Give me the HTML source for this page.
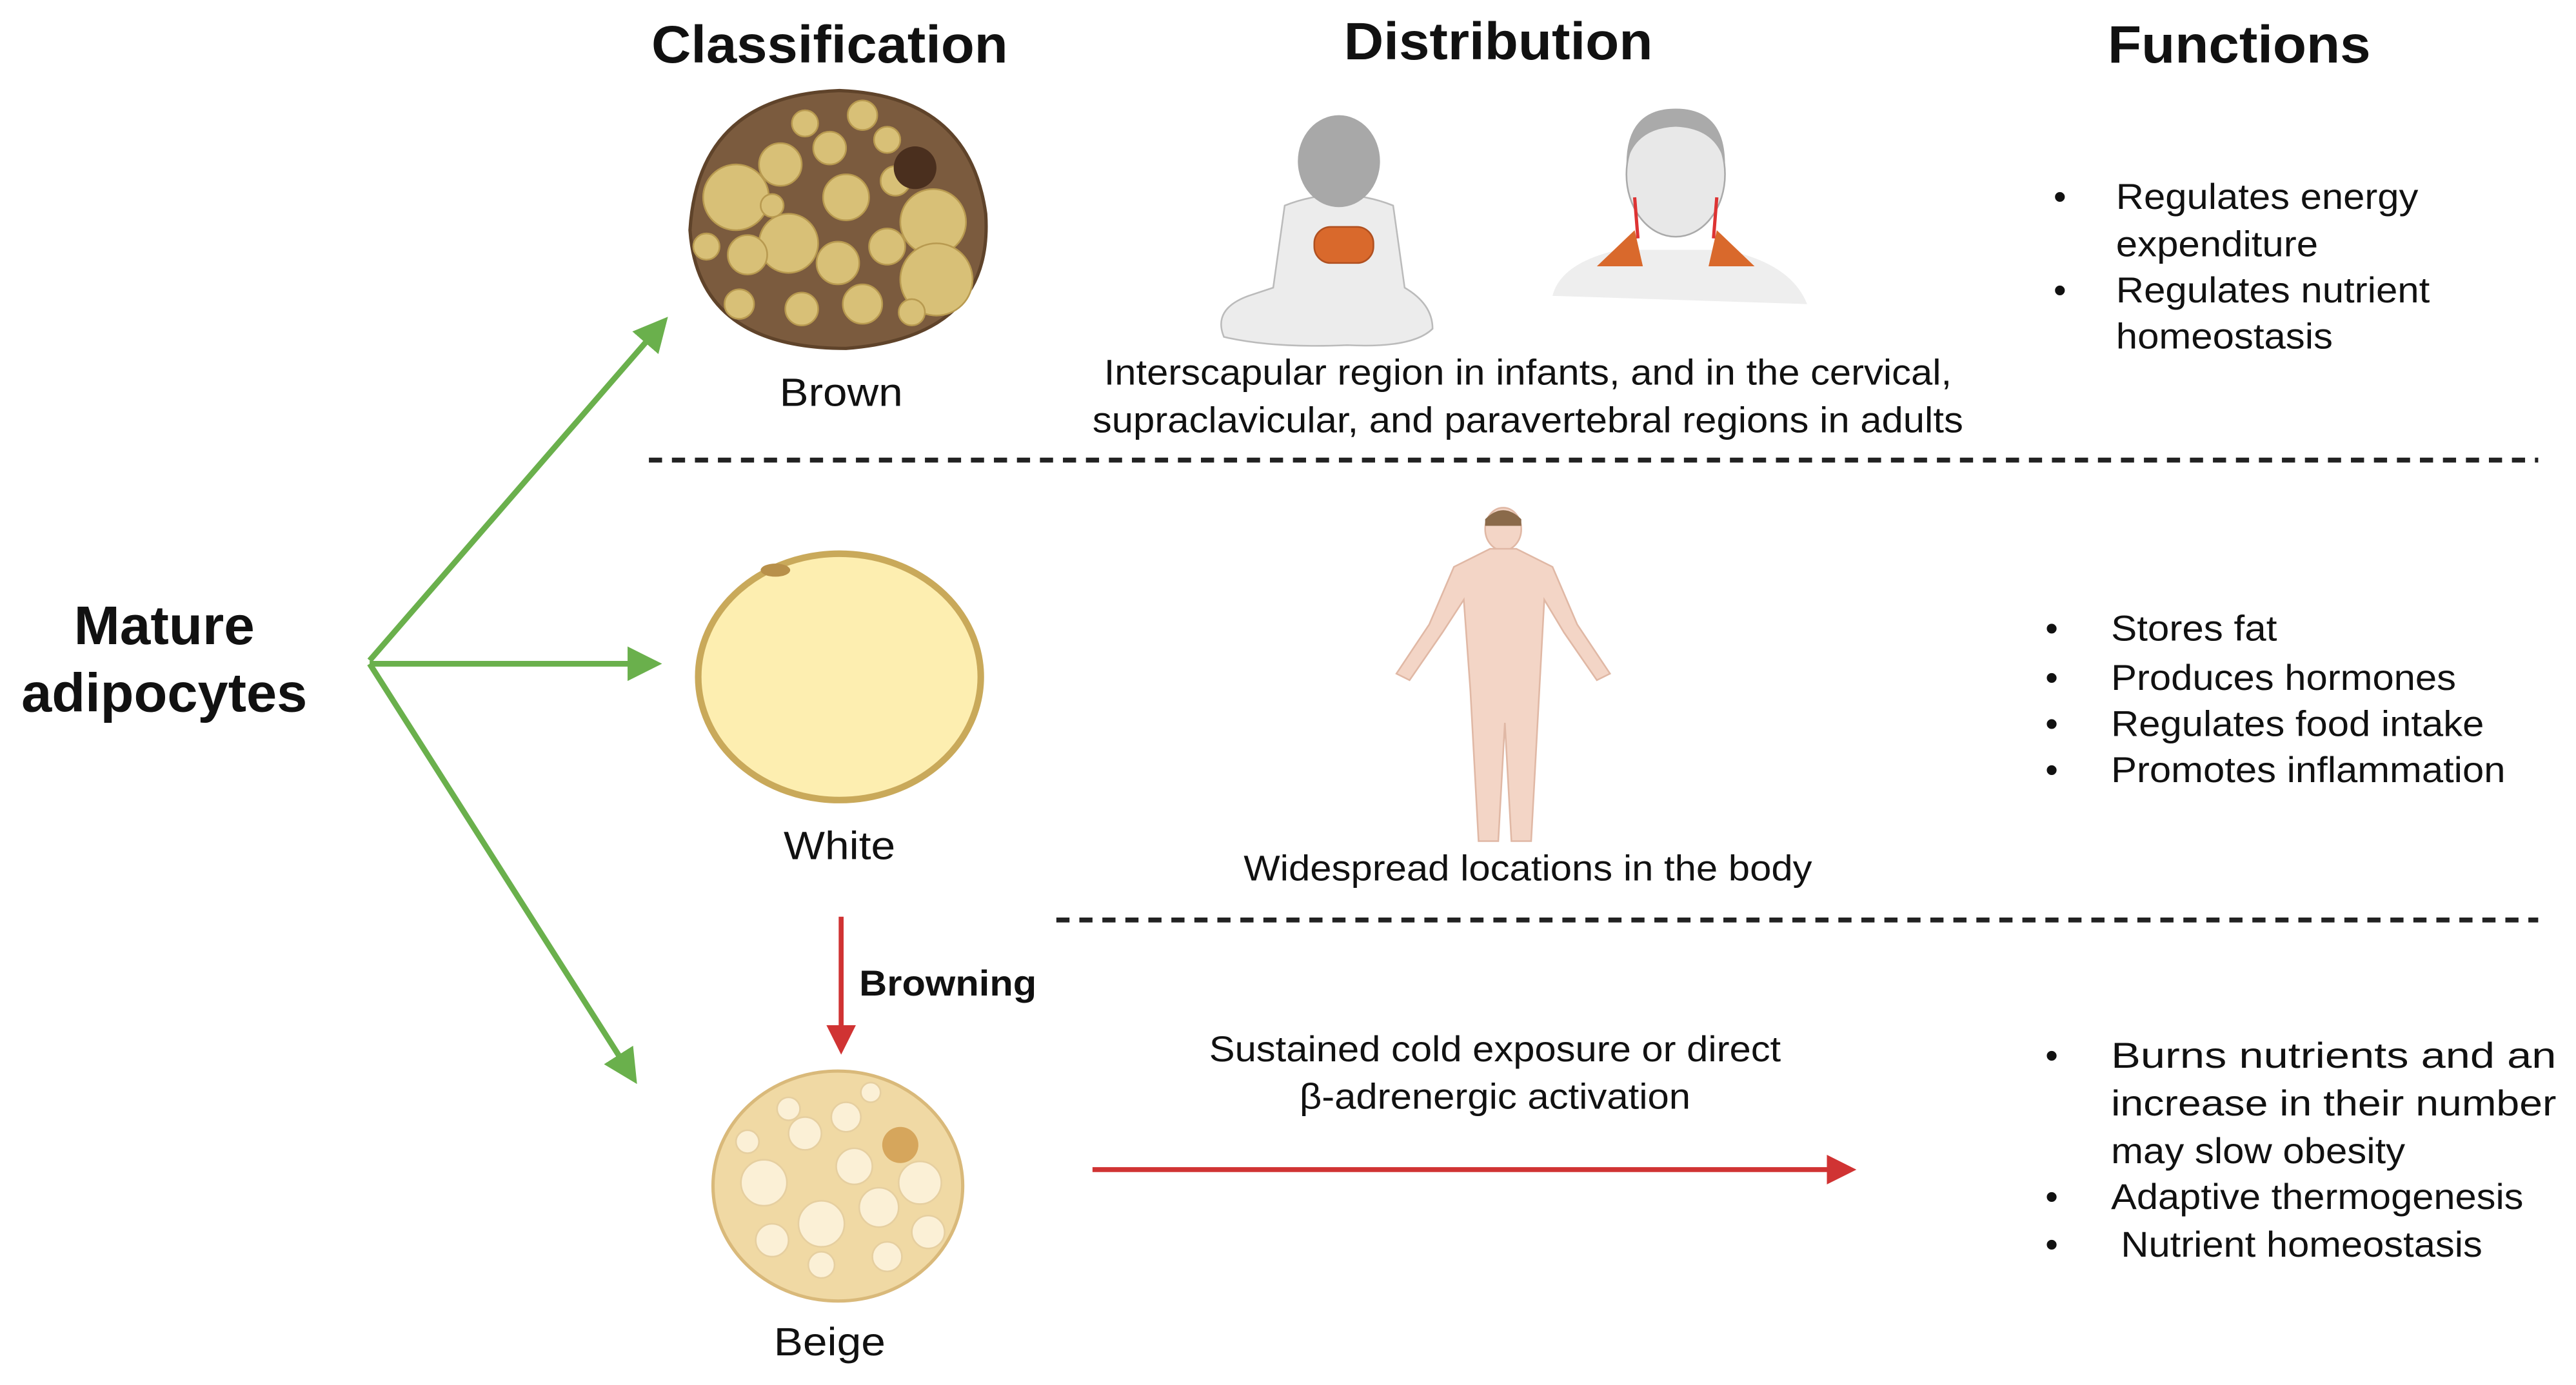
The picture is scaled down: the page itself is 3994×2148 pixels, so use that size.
<!DOCTYPE html>
<html><head><meta charset="utf-8"><style>
html,body{margin:0;padding:0;background:#fff;}
svg{display:block;}
text{font-family:"Liberation Sans",Arial,sans-serif;fill:#111;}
</style></head><body>
<svg width="3994" height="2148" viewBox="0 0 1568 843" xmlns="http://www.w3.org/2000/svg">
<defs>
<marker id="g" markerWidth="6" markerHeight="6" refX="4" refY="3" orient="auto" markerUnits="strokeWidth"><path d="M0,0 L6,3 L0,6 Z" fill="#6ab04c"/></marker>
<marker id="r" markerWidth="6" markerHeight="6" refX="4" refY="3" orient="auto" markerUnits="strokeWidth"><path d="M0,0 L6,3 L0,6 Z" fill="#d03333"/></marker>
</defs>
<g font-weight="bold" font-size="32" text-anchor="middle">
<text x="505" y="38" textLength="217" lengthAdjust="spacingAndGlyphs">Classification</text>
<text x="912" y="36" textLength="188" lengthAdjust="spacingAndGlyphs">Distribution</text>
<text x="1363" y="38" textLength="160" lengthAdjust="spacingAndGlyphs">Functions</text>
<text x="100" y="392" font-size="33" textLength="110" lengthAdjust="spacingAndGlyphs">Mature</text>
<text x="100" y="433" font-size="33" textLength="174" lengthAdjust="spacingAndGlyphs">adipocytes</text>
</g>
<g stroke="#6ab04c" stroke-width="3.5" fill="none">
<line x1="225" y1="402" x2="402" y2="198" marker-end="url(#g)"/>
<line x1="225" y1="404" x2="396" y2="404" marker-end="url(#g)"/>
<line x1="225" y1="404" x2="384" y2="654" marker-end="url(#g)"/>
</g>
<!-- brown cell -->
<path d="M511,55 Q590,58 600,130 Q605,205 515,212 Q425,212 420,140 Q425,58 511,55Z" fill="#7b5b3e" stroke="#5f432a" stroke-width="2"/>
<g fill="#d8c077" stroke="#b89a50" stroke-width="1">
<circle cx="448" cy="120" r="20"/><circle cx="480" cy="148" r="18"/><circle cx="515" cy="120" r="14"/><circle cx="568" cy="135" r="20"/><circle cx="570" cy="170" r="22"/>
<circle cx="475" cy="100" r="13"/><circle cx="505" cy="90" r="10"/><circle cx="525" cy="70" r="9"/><circle cx="490" cy="75" r="8"/><circle cx="455" cy="155" r="12"/>
<circle cx="510" cy="160" r="13"/><circle cx="540" cy="150" r="11"/><circle cx="525" cy="185" r="12"/><circle cx="488" cy="188" r="10"/><circle cx="450" cy="185" r="9"/>
<circle cx="545" cy="110" r="9"/><circle cx="470" cy="125" r="7"/><circle cx="540" cy="85" r="8"/><circle cx="555" cy="190" r="8"/><circle cx="430" cy="150" r="8"/>
</g>
<circle cx="557" cy="102" r="13" fill="#4a2f1e"/>
<text x="512" y="247" font-size="24" text-anchor="middle" textLength="75" lengthAdjust="spacingAndGlyphs">Brown</text>
<!-- baby -->
<g fill="#ececec" stroke="#bbb" stroke-width="1">
<path d="M782,125 Q815,112 848,125 L855,175 Q872,185 872,200 Q860,212 820,210 Q775,212 745,205 Q738,188 760,180 L775,175 Z"/>
<ellipse cx="815" cy="98" rx="25" ry="28" fill="#a8a8a8" stroke="none"/>
<rect x="800" y="138" width="36" height="22" rx="10" fill="#d9692c" stroke="#b05020"/>
</g>
<!-- adult head -->
<g>
<path d="M945,180 Q950,160 985,152 L1050,152 Q1090,160 1100,185 Z" fill="#eeeeee"/>
<ellipse cx="1020" cy="106" rx="30" ry="38" fill="#e8e8e8" stroke="#aaa"/>
<path d="M990,100 Q990,66 1020,66 Q1050,66 1050,100 Q1045,78 1020,77 Q995,78 990,100Z" fill="#aaa"/>
<path d="M972,162 L995,140 L1000,162 Z" fill="#d9692c"/>
<path d="M1068,162 L1045,140 L1040,162 Z" fill="#d9692c"/>
<line x1="995" y1="120" x2="997" y2="145" stroke="#d33" stroke-width="2"/>
<line x1="1045" y1="120" x2="1043" y2="145" stroke="#d33" stroke-width="2"/>
</g>
<g font-size="22" text-anchor="middle">
<text x="930" y="234" textLength="516" lengthAdjust="spacingAndGlyphs">Interscapular region in infants, and in the cervical,</text>
<text x="930" y="263" textLength="530" lengthAdjust="spacingAndGlyphs">supraclavicular, and paravertebral regions in adults</text>
</g>
<line x1="395" y1="280" x2="1545" y2="280" stroke="#222" stroke-width="3" stroke-dasharray="8,6"/>
<!-- white cell -->
<ellipse cx="511" cy="412" rx="86" ry="75" fill="#fdeeb0" stroke="#c9a95a" stroke-width="4"/>
<ellipse cx="472" cy="347" rx="9" ry="4" fill="#b8904a"/>
<text x="511" y="523" font-size="24" text-anchor="middle" textLength="68" lengthAdjust="spacingAndGlyphs">White</text>
<!-- human -->
<g fill="#f3d5c6" stroke="#e0b8a5" stroke-width="1">
<ellipse cx="915" cy="322" rx="11" ry="13"/>
<path d="M907,334 L923,334 L945,345 L960,380 L980,410 L972,414 L952,385 L940,365 L937,420 L932,512 L920,512 L916,440 L912,512 L900,512 L895,420 L891,365 L878,385 L858,414 L850,410 L870,380 L885,345 Z"/>
</g>
<path d="M904,316 Q915,305 926,316 L926,320 L904,320Z" fill="#8a6a4a"/>
<text x="930" y="536" font-size="22" text-anchor="middle" textLength="346" lengthAdjust="spacingAndGlyphs">Widespread locations in the body</text>
<line x1="643" y1="560" x2="1545" y2="560" stroke="#222" stroke-width="3" stroke-dasharray="8,6"/>
<line x1="512" y1="558" x2="512" y2="636" stroke="#d03333" stroke-width="3" marker-end="url(#r)"/>
<text x="523" y="606" font-size="22" font-weight="bold" textLength="108" lengthAdjust="spacingAndGlyphs">Browning</text>
<!-- beige cell -->
<ellipse cx="510" cy="722" rx="76" ry="70" fill="#f0d9a4" stroke="#d9b97a" stroke-width="2"/>
<g fill="#fbf0d6" stroke="#e6cfa0" stroke-width="1">
<circle cx="465" cy="720" r="14"/><circle cx="500" cy="745" r="14"/><circle cx="535" cy="735" r="12"/><circle cx="560" cy="720" r="13"/><circle cx="520" cy="710" r="11"/>
<circle cx="490" cy="690" r="10"/><circle cx="515" cy="680" r="9"/><circle cx="470" cy="755" r="10"/><circle cx="540" cy="765" r="9"/><circle cx="565" cy="750" r="10"/>
<circle cx="480" cy="675" r="7"/><circle cx="500" cy="770" r="8"/><circle cx="455" cy="695" r="7"/><circle cx="530" cy="665" r="6"/>
</g>
<circle cx="548" cy="697" r="11" fill="#d6a65c"/>
<text x="505" y="825" font-size="24" text-anchor="middle" textLength="68" lengthAdjust="spacingAndGlyphs">Beige</text>
<g font-size="22" text-anchor="middle">
<text x="910" y="646" textLength="348" lengthAdjust="spacingAndGlyphs">Sustained cold exposure or direct</text>
<text x="910" y="675" textLength="238" lengthAdjust="spacingAndGlyphs">β-adrenergic activation</text>
</g>
<line x1="665" y1="712" x2="1124" y2="712" stroke="#d03333" stroke-width="3" marker-end="url(#r)"/>
<g font-size="22">
<text x="1250" y="127">•</text><text x="1288" y="127" textLength="184" lengthAdjust="spacingAndGlyphs">Regulates energy</text>
<text x="1288" y="156" textLength="123" lengthAdjust="spacingAndGlyphs">expenditure</text>
<text x="1250" y="184">•</text><text x="1288" y="184" textLength="191" lengthAdjust="spacingAndGlyphs">Regulates nutrient</text>
<text x="1288" y="212" textLength="132" lengthAdjust="spacingAndGlyphs">homeostasis</text>
<text x="1245" y="390">•</text><text x="1285" y="390" textLength="101" lengthAdjust="spacingAndGlyphs">Stores fat</text>
<text x="1245" y="420">•</text><text x="1285" y="420" textLength="210" lengthAdjust="spacingAndGlyphs">Produces hormones</text>
<text x="1245" y="448">•</text><text x="1285" y="448" textLength="227" lengthAdjust="spacingAndGlyphs">Regulates food intake</text>
<text x="1245" y="476">•</text><text x="1285" y="476" textLength="240" lengthAdjust="spacingAndGlyphs">Promotes inflammation</text>
<text x="1245" y="650">•</text><text x="1285" y="650" textLength="271" lengthAdjust="spacingAndGlyphs">Burns  nutrients  and  an</text>
<text x="1285" y="679" textLength="271" lengthAdjust="spacingAndGlyphs">increase in their number</text>
<text x="1285" y="708" textLength="179" lengthAdjust="spacingAndGlyphs">may slow obesity</text>
<text x="1245" y="736">•</text><text x="1285" y="736" textLength="251" lengthAdjust="spacingAndGlyphs">Adaptive thermogenesis</text>
<text x="1245" y="765">•</text><text x="1291" y="765" textLength="220" lengthAdjust="spacingAndGlyphs">Nutrient homeostasis</text>
</g>
</svg>
</body></html>
